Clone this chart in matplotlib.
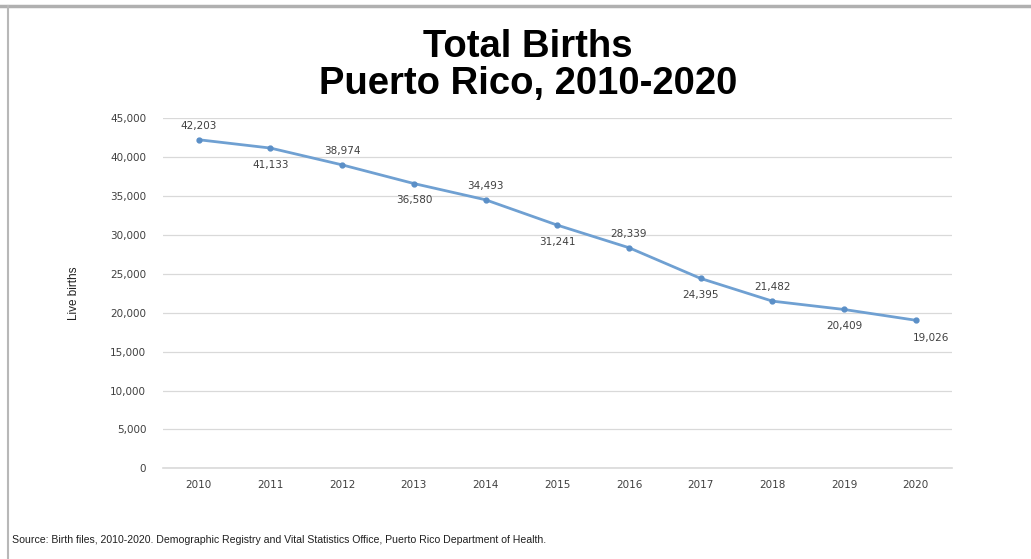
import matplotlib
matplotlib.use("Agg")
import matplotlib.pyplot as plt
from matplotlib.lines import Line2D

years = ["2010", "2011", "2012", "2013", "2014", "2015", "2016", "2017", "2018", "2019", "2020"]
births = [42203, 41133, 38974, 36580, 34493, 31241, 28339, 24395, 21482, 20409, 19026]
label_above = [True, False, True, False, True, False, True, False, True, False, False]
yticks = [0, 5000, 10000, 15000, 20000, 25000, 30000, 35000, 40000, 45000]

fig = plt.figure(figsize=(10.31, 5.59), dpi=100)
fig.patch.set_facecolor("white")
ax = fig.add_axes([0.158, 0.162, 0.765, 0.627])

x = list(range(len(years)))
ax.plot(x, births, color="#6fa0d2", lw=2.0, marker="o", ms=3.5,
        markerfacecolor="#5b8fc7", markeredgecolor="#5b8fc7", zorder=3)

for i, (v, up) in enumerate(zip(births, label_above)):
    if i == len(years) - 1:
        ax.annotate(f"{v:,}", (i, v), xytext=(11, -13), textcoords="offset points",
                    ha="center", va="center", fontsize=7.5, color="#404040")
    else:
        off = 10 if up else -12
        ax.annotate(f"{v:,}", (i, v), xytext=(0, off), textcoords="offset points",
                    ha="center", va="center", fontsize=7.5, color="#404040")

ax.set_xlim(-0.5, len(years) - 0.5)
ax.set_ylim(0, 45000)
ax.set_yticks(yticks)
ax.set_yticklabels([f"{t:,}" for t in yticks], fontsize=7.5, color="#404040")
ax.set_xticks(x)
ax.set_xticklabels(years, fontsize=7.5, color="#404040")
ax.tick_params(axis="y", length=0, pad=12)
ax.tick_params(axis="x", length=0, pad=8)
ax.grid(axis="y", color="#d9d9d9", lw=0.9)
ax.axhline(0, color="#d9d9d9", lw=1.2, clip_on=False, zorder=1)
ax.set_axisbelow(True)
for s in ax.spines.values():
    s.set_visible(False)

ax.set_ylabel("Live births", fontsize=8.5, color="#202020",
              fontfamily="Liberation Sans", labelpad=22)

fig.text(0.512, 0.916, "Total Births", ha="center", va="center",
         fontsize=27.5, fontweight="bold", fontfamily="Liberation Sans")
fig.text(0.512, 0.849, "Puerto Rico, 2010-2020", ha="center", va="center",
         fontsize=27.5, fontweight="bold", fontfamily="Liberation Sans")

fig.text(0.012, 0.034, "Source: Birth files, 2010-2020. Demographic Registry and Vital Statistics Office, Puerto Rico Department of Health.",
         ha="left", va="center", fontsize=7.6, fontfamily="Liberation Sans", color="#202020")

# frame lines
fig.add_artist(Line2D([0, 1], [0.990, 0.990], transform=fig.transFigure, color="#b0b0b0", lw=2.5))
fig.add_artist(Line2D([0.0075, 0.0075], [0, 0.990], transform=fig.transFigure, color="#b8b8b8", lw=1.5))

fig.savefig("out.png", dpi=100)
